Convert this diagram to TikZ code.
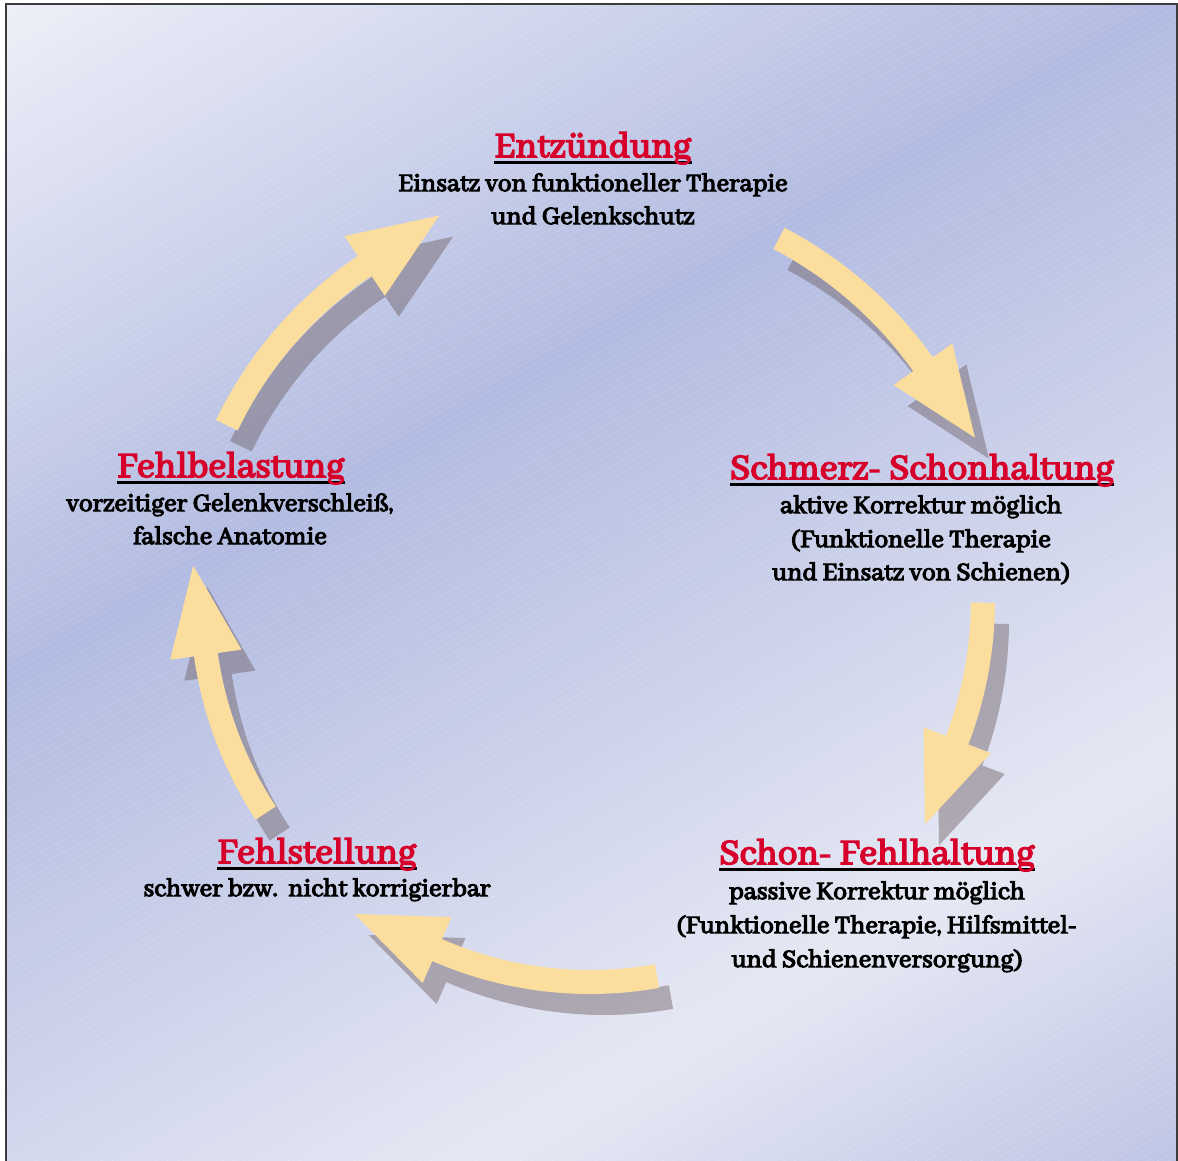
\documentclass[tikz,border=0pt]{standalone}
\usepackage{fontspec}
\setmainfont{Abhaya Libre}[AutoFakeBold=4.2]
\usetikzlibrary{calc}
\definecolor{bgA}{RGB}{238,240,248}
\definecolor{bgB}{RGB}{178,187,225}
\definecolor{bgC}{RGB}{230,232,243}
\definecolor{bgD}{RGB}{188,195,228}
\definecolor{arrowY}{RGB}{251,222,158}
\definecolor{shadowC}{RGB}{110,95,100}
\definecolor{titlered}{RGB}{215,0,42}
\definecolor{framec}{RGB}{60,60,60}
\pgfdeclarelayer{back}
\pgfdeclarelayer{under}
\pgfsetlayers{back,under,main}
\newcommand{\bgstrip}[3]{%
  \fill[#3] ({0.5*#1-1300},{0.866*#1+750}) -- ({0.5*#1+1300},{0.866*#1-750}) -- ({0.5*#2+1300},{0.866*#2-750}) -- ({0.5*#2-1300},{0.866*#2+750}) -- cycle;}
\newcommand{\cyclearrow}[4]{%
  \fill[#1] plot[domain=#3:#4, samples=40, variable=\t] ({590+(#2+12)*cos(\t)},{600+(#2+12)*sin(\t)})
   -- ({590+(#2+36)*cos(#4)},{600+(#2+36)*sin(#4)})
   -- ({590+#2*cos(#4)-90*sin(#4)},{600+#2*sin(#4)+90*cos(#4)})
   -- ({590+(#2-36)*cos(#4)},{600+(#2-36)*sin(#4)})
   -- plot[domain=#4:#3, samples=40, variable=\t] ({590+(#2-12)*cos(\t)},{600+(#2-12)*sin(\t)})
   -- cycle;}
\tikzset{
  ttl/.style={font=\fontsize{39}{44}\selectfont\bfseries, text=titlered, inner sep=0pt, anchor=base},
  bdy/.style={font=\fontsize{27.5}{32}\selectfont\bfseries, text=black, inner sep=0pt, anchor=base},
  uline/.style={black, line width=2.6pt},
  yarrow/.style={arrowY},
  sarrow/.style={shadowC, opacity=0.45, shift={(14,21)}}
}
\begin{document}
\begin{tikzpicture}[x=1pt,y=-1pt]
\useasboundingbox (0,0) rectangle (1178,1160);
\begin{pgfonlayer}{back}
\fill[white] (0,0) rectangle (1178,1160);
\begin{scope}
\clip (6,4) rectangle (1177,1175);
\foreach \i in {0,...,59} {
  \pgfmathsetmacro\ta{\i*(590/60)}
  \pgfmathsetmacro\tb{(\i+1)*(590/60)+1}
  \pgfmathsetmacro\p{100*(\i+0.5)/60}
  \bgstrip{\ta}{\tb}{bgB!\p!bgA}
}
\foreach \i in {0,...,59} {
  \pgfmathsetmacro\ta{590+\i*11}
  \pgfmathsetmacro\tb{590+(\i+1)*11+1}
  \pgfmathsetmacro\p{100*(\i+0.5)/60}
  \bgstrip{\ta}{\tb}{bgC!\p!bgB}
}
\foreach \i in {0,...,39} {
  \pgfmathsetmacro\ta{1250+\i*9}
  \pgfmathsetmacro\tb{1250+(\i+1)*9+1}
  \pgfmathsetmacro\p{100*(\i+0.5)/40}
  \bgstrip{\ta}{\tb}{bgD!\p!bgC}
}
\foreach \k in {0,...,295} {
  \pgfmathsetmacro\tt{\k*5.5}
  \draw[white, opacity=0.3, line width=0.5pt, dash pattern=on 1.5pt off 1.5pt]
    ({0.5*\tt-1300},{0.866*\tt+750}) -- ({0.5*\tt+1300},{0.866*\tt-750});
}
\end{scope}
\draw[framec, line width=1.5pt] (6,4) rectangle (1177,1175);
% arrows: shadows then arrows
\cyclearrow{sarrow}{403}{205.7}{236}
\cyclearrow{sarrow}{408}{297.6}{324.7}
\cyclearrow{sarrow}{393}{0.4}{20.9}
\cyclearrow{sarrow}{382}{79.9}{113.6}
\cyclearrow{sarrow}{388}{146.7}{171.9}
\cyclearrow{yarrow}{403}{205.7}{236}
\cyclearrow{yarrow}{408}{297.6}{324.7}
\cyclearrow{yarrow}{393}{0.4}{20.9}
\cyclearrow{yarrow}{382}{79.9}{113.6}
\cyclearrow{yarrow}{388}{146.7}{171.9}
\end{pgfonlayer}
% texts
\node[ttl] (t1) at (593,157) {Entzündung};
\node[bdy] (t1a) at (593,191) {Einsatz von funktioneller Therapie};
\node[bdy] (t1b) at (593,224) {und Gelenkschutz};
\node[ttl] (t2) at (922,479) {Schmerz- Schonhaltung};
\node[bdy] (t2a) at (921,513) {aktive Korrektur möglich};
\node[bdy] (t2b) at (921,547) {(Funktionelle Therapie};
\node[bdy] (t2c) at (921,580) {und Einsatz von Schienen)};
\node[ttl] (t3) at (877,864) {Schon- Fehlhaltung};
\node[bdy] (t3a) at (877,899) {passive Korrektur möglich};
\node[bdy] (t3b) at (877,933) {(Funktionelle Therapie, Hilfsmittel-};
\node[bdy] (t3c) at (877,967) {und Schienenversorgung)};
\node[ttl] (t4) at (317,863) {Fehlstellung};
\node[bdy] (t4a) at (317,896) {schwer bzw.\ \ nicht korrigierbar};
\node[ttl] (t5) at (231,477) {Fehlbelastung};
\node[bdy] (t5a) at (230,511) {vorzeitiger Gelenkverschleiß,};
\node[bdy] (t5b) at (230,544) {falsche Anatomie};
\begin{pgfonlayer}{under}
\foreach \n in {t1,t2,t3,t4,t5}
  \draw[uline] ([yshift=-5.5pt]\n.base west) -- ([yshift=-5.5pt]\n.base east);
\end{pgfonlayer}
\end{tikzpicture}
\end{document}
